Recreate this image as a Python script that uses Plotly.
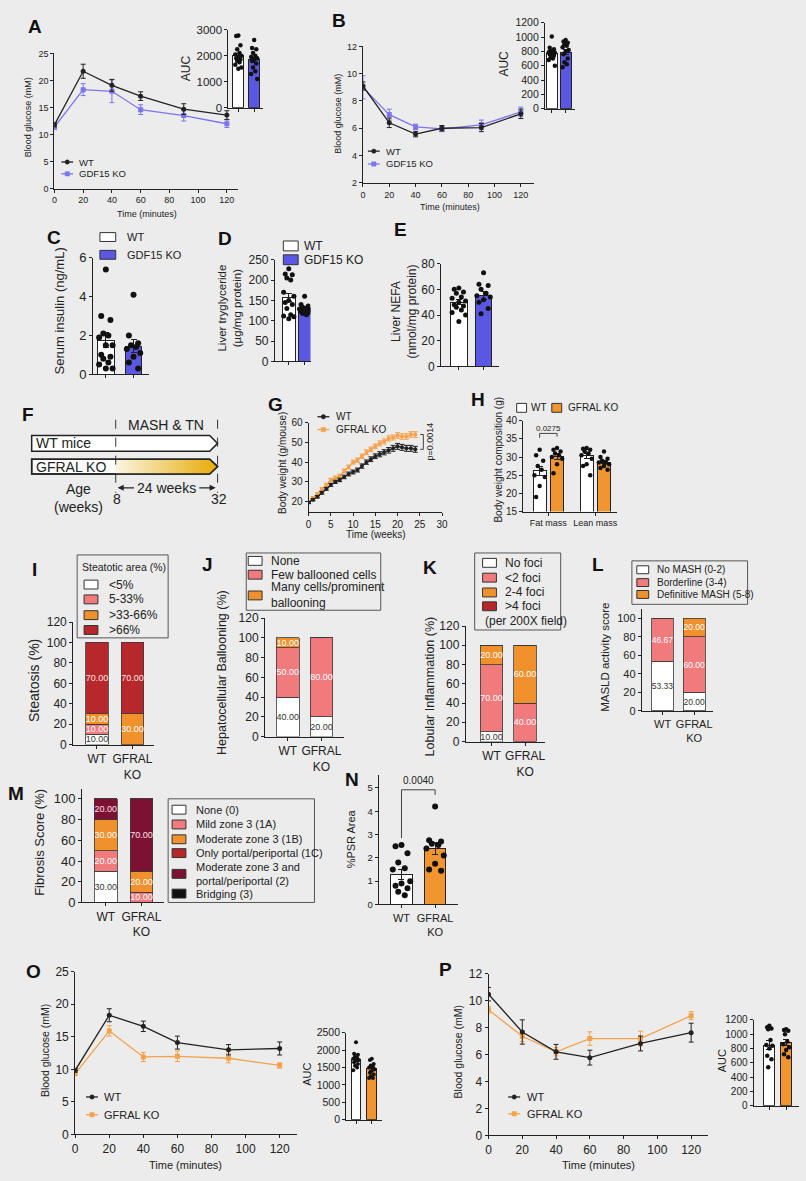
import plotly.graph_objects as go

# ---------------- values ----------------
TIME_MIN = [0, 20, 40, 60, 90, 120]
TIME_TICKS = [0, 20, 40, 60, 80, 100, 120]

# A: GTT, GDF15
GTT_GDF15_WT = [11.8, 21.7, 19.1, 17.1, 14.7, 13.6]
GTT_GDF15_WT_SEM = [0.4, 1.3, 1.1, 0.8, 1.0, 0.8]
GTT_GDF15_KO = [11.4, 18.3, 18.0, 14.6, 13.5, 12.0]
GTT_GDF15_KO_SEM = [0.5, 1.1, 2.1, 0.9, 1.0, 0.7]
GTT_GDF15_AUC_WT = [2780, 2760, 2400, 2250, 2100, 2050, 2000, 1950, 1900, 1850, 1800, 1750, 1650, 1550, 1500]
GTT_GDF15_AUC_KO = [2600, 2300, 2250, 2100, 2000, 1950, 1900, 1850, 1800, 1700, 1550, 1400, 1300, 1100]
GTT_GDF15_AUC_MEAN = [1990, 1835]
GTT_GDF15_AUC_SEM = [95, 110]

# B: ITT, GDF15
ITT_GDF15_WT = [9.1, 6.4, 5.57, 6.0, 6.05, 7.06]
ITT_GDF15_WT_SEM = [0.3, 0.35, 0.2, 0.2, 0.3, 0.35]
ITT_GDF15_KO = [9.0, 7.0, 6.1, 5.95, 6.25, 7.2]
ITT_GDF15_KO_SEM = [0.85, 0.4, 0.2, 0.2, 0.35, 0.35]
ITT_GDF15_AUC_WT = [1010, 850, 830, 810, 800, 790, 780, 770, 760, 740, 720, 700, 680, 600]
ITT_GDF15_AUC_KO = [960, 940, 920, 900, 880, 860, 820, 800, 760, 700, 650, 620, 580]
ITT_GDF15_AUC_MEAN = [770, 790]
ITT_GDF15_AUC_SEM = [25, 35]

# C-E
INSULIN_WT = [5.4, 3.0, 2.8, 2.1, 2.0, 1.9, 1.5, 1.5, 1.0, 0.9, 0.8, 0.6, 0.5, 0.3, 0.3]
INSULIN_KO = [4.1, 2.0, 1.6, 1.5, 1.4, 1.3, 1.1, 0.9, 0.6, 0.3]
INSULIN_MEAN = [1.75, 1.45]
INSULIN_SEM = [0.38, 0.35]

LIVER_TG_WT = [228, 215, 213, 205, 200, 170, 160, 150, 145, 140, 130, 115, 112, 110, 105]
LIVER_TG_KO = [160, 140, 136, 133, 131, 129, 127, 125, 123, 120, 118, 115]
LIVER_TG_MEAN = [158, 130]
LIVER_TG_SEM = [10, 4]

LIVER_NEFA_WT = [61, 60, 58, 57, 54, 53, 51, 50, 48, 47, 46, 44, 42, 40, 35]
LIVER_NEFA_KO = [73, 64, 63, 60, 57, 55, 54, 52, 50, 45, 41]
LIVER_NEFA_MEAN = [50, 55]
LIVER_NEFA_SEM = [2, 3]

# G: body weight
WEEKS = [0, 1, 2, 3, 4, 5, 6, 7, 8, 9, 10, 11, 12, 13, 14, 15, 16, 17, 18, 19, 20, 21, 22, 23, 24]
BW_WT = [19.5, 21.0, 22.5, 24.5, 26.5, 28.5, 30.0, 31.0, 32.5, 34.0, 35.0, 36.0, 38.0,
         40.0, 41.5, 43.0, 44.0, 45.0, 46.0, 47.0, 48.0, 47.5, 47.0, 47.0, 46.5]
BW_WT_SEM = [0.5, 0.6, 0.6, 0.7, 0.7, 0.8, 0.8, 0.9, 0.9, 1.0, 1.0, 1.0, 1.1,
             1.1, 1.2, 1.2, 1.3, 1.3, 1.4, 1.5, 1.5, 1.5, 1.5, 1.5, 1.5]
BW_KO = [20.0, 22.0, 24.0, 26.5, 28.5, 31.0, 32.0, 33.0, 35.5, 37.5, 40.0, 41.0, 43.0,
         45.0, 46.5, 48.0, 49.5, 50.5, 52.0, 52.5, 53.5, 53.0, 53.0, 54.0, 54.0]
BW_KO_SEM = [0.5, 0.6, 0.6, 0.7, 0.8, 0.8, 0.9, 0.9, 1.0, 1.0, 1.0, 1.1, 1.1,
             1.2, 1.2, 1.2, 1.3, 1.3, 1.3, 1.3, 1.4, 1.4, 1.4, 1.4, 1.4]

# H: body composition
BODY_COMP_GROUPS = ["Fat mass", "Lean mass"]
FAT_WT = [32.0, 30.5, 29.0, 27.5, 26.5, 25.0, 24.5, 22.0, 19.0]
FAT_KO = [32.5, 32.0, 31.5, 31.0, 30.5, 30.0, 29.5, 28.0, 25.5]
LEAN_WT = [32.5, 32.3, 32.0, 31.5, 31.0, 30.5, 29.5, 28.0, 27.5, 25.0]
LEAN_KO = [31.5, 30.0, 29.5, 29.0, 28.5, 28.5, 28.0, 27.5, 27.0, 26.5]
FAT_MEAN = [26.2, 30.2]
FAT_SEM = [1.3, 0.75]
LEAN_MEAN = [30.3, 28.6]
LEAN_SEM = [0.8, 0.5]

# I-M: histology scores (% of mice)
GROUPS = ["WT", "GFRAL<br>KO"]
STEATOSIS_CATS = ["<5%", "5-33%", ">33-66%", ">66%"]
STEATOSIS_WT = [10, 10, 10, 70]
STEATOSIS_KO = [0, 0, 30, 70]
BALLOON_CATS = ["None", "Few ballooned cells", "Many cells/prominent<br>ballooning"]
BALLOON_WT = [40, 50, 10]
BALLOON_KO = [20, 80, 0]
INFLAM_CATS = ["No foci", "<2 foci", "2-4 foci", ">4 foci"]
INFLAM_WT = [10, 70, 20, 0]
INFLAM_KO = [0, 40, 60, 0]
NAS_CATS = ["No MASH (0-2)", "Borderline (3-4)", "Definitive MASH (5-8)"]
NAS_WT = [53.33, 46.67, 0]
NAS_KO = [20, 60, 20]
FIB_CATS = ["None (0)", "Mild zone 3 (1A)", "Moderate zone 3 (1B)", "Only portal/periportal (1C)",
            "Moderate zone 3 and<br>portal/periportal (2)", "Bridging (3)"]
FIB_WT = [30, 20, 30, 0, 20, 0]
FIB_KO = [0, 10, 20, 0, 70, 0]

# N: PSR area
PSR_WT = [2.55, 2.5, 2.2, 1.8, 1.55, 1.5, 1.0, 0.9, 0.8, 0.7, 0.55, 0.4]
PSR_KO = [4.2, 2.75, 2.7, 2.6, 2.55, 2.4, 2.1, 1.75, 1.5, 1.45]
PSR_MEAN = [1.3, 2.4]
PSR_SEM = [0.22, 0.25]

# O: GTT, GFRAL
GTT_GFRAL_WT = [9.85, 18.3, 16.6, 14.1, 13.0, 13.2]
GTT_GFRAL_WT_SEM = [0.3, 1.0, 0.8, 1.0, 0.8, 1.0]
GTT_GFRAL_KO = [9.35, 15.9, 11.9, 12.0, 11.7, 10.6]
GTT_GFRAL_KO_SEM = [0.3, 0.8, 0.7, 0.8, 0.7, 0.4]
GTT_GFRAL_AUC_WT = [2230, 1900, 1870, 1820, 1780, 1750, 1720, 1700, 1650, 1600, 1550, 1500, 1420]
GTT_GFRAL_AUC_KO = [1750, 1720, 1600, 1560, 1520, 1500, 1450, 1400, 1350, 1300, 1250, 1200, 1200]
GTT_GFRAL_AUC_MEAN = [1720, 1460]
GTT_GFRAL_AUC_SEM = [55, 50]

# P: ITT, GFRAL
ITT_GFRAL_WT = [10.47, 7.67, 6.2, 5.77, 6.82, 7.62]
ITT_GFRAL_WT_SEM = [0.5, 0.9, 0.55, 0.55, 0.55, 0.7]
ITT_GFRAL_KO = [9.32, 7.35, 6.2, 7.18, 7.18, 8.88]
ITT_GFRAL_KO_SEM = [0.25, 0.4, 0.3, 0.5, 0.55, 0.3]
ITT_GFRAL_AUC_WT = [1120, 1100, 1080, 1070, 920, 850, 840, 800, 700, 650, 540]
ITT_GFRAL_AUC_KO = [1070, 1060, 1050, 1000, 900, 860, 820, 780, 720, 680]
ITT_GFRAL_AUC_MEAN = [850, 885]
ITT_GFRAL_AUC_SEM = [60, 45]

# ---------------- styling ----------------
W, H = 806, 1181
FONT = "Liberation Sans, Arial, Helvetica, sans-serif"
INK = "#222222"
BG = "#ececec"
PURPLE_LINE = "#7d74ee"
PURPLE_BAR = "#5a58e2"
ORANGE_LINE = "#f4a24c"
ORANGE_BAR = "#f0952f"
WHITE = "#ffffff"
PINK = "#f07a7c"
ORANGE = "#f0912d"
RED = "#b7282c"
MAROON = "#7c1133"
BLACK = "#111111"

fig = go.Figure()
axes_layout = {}
shapes = []
notes = []
n_axes = 0


def fx(px):
    return px / W


def fy(py):
    return 1 - py / H


def add_axes(left, right, top, bottom, xrange, yrange, xticks, yticks, size,
             xlabels=None, xsize=None, visible=True):
    global n_axes
    n_axes += 1
    s = "" if n_axes == 1 else str(n_axes)
    base = dict(showline=True, linecolor=INK, linewidth=1, ticks="outside", ticklen=3,
                tickwidth=1, tickcolor=INK, showgrid=False, zeroline=False,
                fixedrange=True, tickmode="array", visible=visible)
    xa = dict(base, domain=[fx(left), fx(right)], range=xrange, tickvals=xticks,
              anchor="y" + s, tickfont=dict(family=FONT, size=xsize or size, color=INK))
    if xlabels is not None:
        xa["ticktext"] = xlabels
    ya = dict(base, domain=[fy(bottom), fy(top)], range=yrange, tickvals=yticks,
              anchor="x" + s, tickfont=dict(family=FONT, size=size, color=INK))
    axes_layout["xaxis" + s] = xa
    axes_layout["yaxis" + s] = ya
    return "x" + s, "y" + s


def bar_axes(left, right, top, bottom, c0, c1, bar_px, yrange, yticks, size,
             labels=None, xsize=None):
    # bars sit at x = 0 and x = 1; the pixel centres fix the range
    s = c1 - c0
    ax = add_axes(left, right, top, bottom, [(left - c0) / s, (right - c0) / s],
                  yrange, [0, 1], yticks, size, labels or ["", ""], xsize)
    return ax, bar_px / s


SPREAD = [0.0, -0.55, 0.55, -0.3, 0.3, -0.8, 0.8]


def spread_x(values, centre, half):
    order = sorted(range(len(values)), key=lambda k: -values[k])
    xs = [centre] * len(values)
    for rank, k in enumerate(order):
        xs[k] = centre + SPREAD[rank % len(SPREAD)] * half
    return xs


def dot_bars(ax, xs, width, means, sems, dots, fills, dot_size=5, spread=1.0):
    for x, m, e, d, c in zip(xs, means, sems, dots, fills):
        fig.add_trace(go.Bar(x=[x], y=[m], width=width,
                             marker=dict(color=c, line=dict(color=INK, width=1)),
                             error_y=dict(type="data", array=[e], color=INK, thickness=1, width=3),
                             xaxis=ax[0], yaxis=ax[1], showlegend=False, hoverinfo="skip"))
        fig.add_trace(go.Scatter(x=spread_x(d, x, spread * width / 2), y=d, mode="markers",
                                 marker=dict(color=BLACK, size=dot_size),
                                 xaxis=ax[0], yaxis=ax[1], showlegend=False, hoverinfo="skip"))


def lines(ax, t, y, sem, color, symbol, size=5, lw=1.3):
    fig.add_trace(go.Scatter(x=t, y=y, mode="lines+markers",
                             line=dict(color=color, width=lw),
                             marker=dict(symbol=symbol, size=size, color=color),
                             error_y=dict(type="data", array=sem, color=color, thickness=1, width=2.5),
                             xaxis=ax[0], yaxis=ax[1], showlegend=False, hoverinfo="skip"))


def stack(ax, width, wt, ko, colors, text_colors, size=9):
    for a, b, col, tc in zip(wt, ko, colors, text_colors):
        fig.add_trace(go.Bar(x=[0, 1], y=[a, b], width=width,
                             marker=dict(color=col, line=dict(color="#3a3a3a", width=0.8)),
                             text=[f"{v:.2f}" if v else "" for v in (a, b)],
                             textposition="inside", insidetextanchor="middle", textangle=0,
                             constraintext="none",
                             textfont=dict(family=FONT, size=size, color=tc),
                             xaxis=ax[0], yaxis=ax[1], showlegend=False, hoverinfo="skip"))


def text(x, y, s, size, anchor="center", angle=0, color=INK, align="left"):
    notes.append(dict(x=fx(x), y=fy(y), xref="paper", yref="paper", text=s, showarrow=False,
                      xanchor=anchor, yanchor="middle", textangle=angle, align=align,
                      font=dict(family=FONT, size=size, color=color)))


def letter(x, y, s):
    text(x, y, f"<b>{s}</b>", 19, color="#111111")


def swatch(xc, yc, color, w=14, h=9):
    shapes.append(dict(type="rect", xref="paper", yref="paper",
                       x0=fx(xc - w / 2), x1=fx(xc + w / 2), y0=fy(yc + h / 2), y1=fy(yc - h / 2),
                       fillcolor=color, line=dict(color="#333333", width=1)))


def frame(l, t, r, b):
    shapes.append(dict(type="rect", xref="paper", yref="paper", x0=fx(l), x1=fx(r),
                       y0=fy(b), y1=fy(t), fillcolor="rgba(0,0,0,0)",
                       line=dict(color="#555555", width=1)))


def box_legend(labels, colors, ys, x_sw, x_txt, size, sw=(14, 9)):
    for lab, col, y in zip(labels, colors, ys):
        swatch(x_sw, y, col, *sw)
        text(x_txt, y, lab, size, anchor="left")


def line_key(labels, colors, symbols, ys, x_mk, x_txt, size):
    for lab, col, sym, y in zip(labels, colors, symbols, ys):
        shapes.append(dict(type="line", xref="paper", yref="paper", x0=fx(x_mk - 6), x1=fx(x_mk + 6),
                           y0=fy(y), y1=fy(y), line=dict(color=col, width=1.3)))
        shapes.append(dict(type="circle" if sym == "circle" else "rect", xref="paper", yref="paper",
                           x0=fx(x_mk - 2.2), x1=fx(x_mk + 2.2), y0=fy(y + 2.2), y1=fy(y - 2.2),
                           fillcolor=col, line=dict(color=col, width=0.5)))
        text(x_txt, y, lab, size, anchor="left")


# ---------------- A ----------------
axA = add_axes(52, 238, 47, 184, [0, 128], [0, 25], TIME_TICKS, [0, 5, 10, 15, 20, 25], 9)
lines(axA, TIME_MIN, GTT_GDF15_KO, GTT_GDF15_KO_SEM, PURPLE_LINE, "square")
lines(axA, TIME_MIN, GTT_GDF15_WT, GTT_GDF15_WT_SEM, INK, "circle")
axA2, wA = bar_axes(228, 263, 23, 102, 238, 254, 11, [0, 3000], [0, 1000, 2000, 3000], 11.5)
dot_bars(axA2, [0, 1], wA, GTT_GDF15_AUC_MEAN, GTT_GDF15_AUC_SEM,
         [GTT_GDF15_AUC_WT, GTT_GDF15_AUC_KO], [WHITE, PURPLE_BAR], 4.5, 0.7)
letter(32, 20, "A")
text(25, 112, "Blood glucose (mM)", 9, angle=-90)
text(146, 210, "Time (minutes)", 9)
text(185, 62, "AUC", 12, angle=-90)
line_key(["WT", "GDF15 KO"], [INK, PURPLE_LINE], ["circle", "square"], [157, 169], 65, 75, 9.5)

# ---------------- B ----------------
axB = add_axes(364, 537, 40, 178, [0, 130], [2, 12], TIME_TICKS, [2, 4, 6, 8, 10, 12], 9)
lines(axB, TIME_MIN, ITT_GDF15_KO, ITT_GDF15_KO_SEM, PURPLE_LINE, "square")
lines(axB, TIME_MIN, ITT_GDF15_WT, ITT_GDF15_WT_SEM, INK, "circle")
axB2, wB = bar_axes(548, 578, 16, 103, 555, 569, 11, [0, 1200],
                    [0, 200, 400, 600, 800, 1000, 1200], 10.5)
dot_bars(axB2, [0, 1], wB, ITT_GDF15_AUC_MEAN, ITT_GDF15_AUC_SEM,
         [ITT_GDF15_AUC_WT, ITT_GDF15_AUC_KO], [WHITE, PURPLE_BAR], 4.5, 0.7)
letter(340, 14, "B")
text(338, 108, "Blood glucose (mM)", 9, angle=-90)
text(452, 203, "Time (minutes)", 9)
text(507, 57, "AUC", 12, angle=-90)
line_key(["WT", "GDF15 KO"], [INK, PURPLE_LINE], ["circle", "square"], [146, 159], 375, 385, 9.5)

# ---------------- C, D, E ----------------
axC, wC = bar_axes(91, 148, 254, 372, 104, 132, 17, [0, 6], [0, 2, 4, 6], 13)
dot_bars(axC, [0, 1], wC, INSULIN_MEAN, INSULIN_SEM, [INSULIN_WT, INSULIN_KO], [WHITE, PURPLE_BAR], 6)
letter(52, 233, "C")
text(57, 308, "Serum insulin (ng/mL)", 13, angle=-90)
box_legend(["WT", "GDF15 KO"], [WHITE, PURPLE_BAR], [233, 251], 106, 123, 11, sw=(16, 9))

axD, wD = bar_axes(275, 311, 256, 359, 289, 305, 13, [0, 250], [0, 50, 100, 150, 200, 250], 12)
dot_bars(axD, [0, 1], wD, LIVER_TG_MEAN, LIVER_TG_SEM, [LIVER_TG_WT, LIVER_TG_KO], [WHITE, PURPLE_BAR], 5)
letter(225, 234, "D")
text(229, 305, "Liver tryglyceride<br>(µg/mg protein)", 11.5, angle=-90, align="center")
box_legend(["WT", "GDF15 KO"], [WHITE, PURPLE_BAR], [242, 256], 291, 302, 12, sw=(15, 10))

axE, wE = bar_axes(443, 502, 260, 364, 461, 486, 17, [0, 80], [0, 20, 40, 60, 80], 12)
dot_bars(axE, [0, 1], wE, LIVER_NEFA_MEAN, LIVER_NEFA_SEM, [LIVER_NEFA_WT, LIVER_NEFA_KO],
         [WHITE, PURPLE_BAR], 5)
letter(402, 225, "E")
text(406, 308, "Liver NEFA<br>(nmol/mg protein)", 12, angle=-90, align="center")

# ---------------- F (timeline diagram, pixel axes) ----------------
axF = add_axes(0, 230, 395, 520, [0, 230], [520, 395], [], [], 10, visible=False)
fref = dict(xref=axF[0], yref=axF[1])
shapes.append(dict(type="path", path="M29,434 L209,434 L217,442 L209,450 L29,450 Z",
                   fillcolor=WHITE, line=dict(color=INK, width=1.5), **fref))
shapes.append(dict(type="path", path="M29,458 L209,458 L217,465.5 L209,473 L29,473 Z",
                   fillcolor=WHITE, line=dict(color=INK, width=1.5), layer="below", **fref))
fig.add_trace(go.Scatter(x=[114, 209, 217, 209, 114, 114], y=[458, 458, 465.5, 473, 473, 458],
                         mode="lines", line=dict(width=0), fill="toself",
                         fillgradient=dict(type="horizontal",
                                           colorscale=[[0, "#fbf5e0"], [1, "#e8ab06"]]),
                         xaxis=axF[0], yaxis=axF[1], showlegend=False, hoverinfo="skip"))
shapes.append(dict(type="path", path="M29,458 L209,458 L217,465.5 L209,473 L29,473 Z",
                   fillcolor="rgba(0,0,0,0)", line=dict(color=INK, width=1.5), **fref))
for xd in (114, 217):
    shapes.append(dict(type="line", x0=xd, x1=xd, y0=418, y1=492,
                       line=dict(color="#333333", width=1, dash="dash"), **fref))
for x_tip, x_tail in ((116, 134), (215, 197)):
    notes.append(dict(x=x_tip, y=487, ax=x_tail, ay=487, axref=axF[0], ayref=axF[1],
                      text="", showarrow=True, arrowhead=2, arrowsize=1, arrowwidth=1.2,
                      arrowcolor=INK, **fref))
letter(25, 413, "F")
text(165, 423, "MASH &amp; TN", 14)
text(31, 442, "WT mice", 14, anchor="left")
text(31, 466, "GFRAL KO", 14, anchor="left")
text(165, 487, "24 weeks", 14)
text(76, 488, "Age", 14)
text(76, 506, "(weeks)", 14)
text(115, 498, "8", 14)
text(218, 498, "32", 14)

# ---------------- G ----------------
axG = add_axes(309, 444, 421, 511, [0, 30], [15, 60], [0, 5, 10, 15, 20, 25, 30],
               [20, 30, 40, 50, 60], 10)
lines(axG, WEEKS, BW_KO, BW_KO_SEM, ORANGE_LINE, "square", size=3.5, lw=1.2)
lines(axG, WEEKS, BW_WT, BW_WT_SEM, INK, "circle", size=4, lw=1.2)
shapes.append(dict(type="path", path="M25.1,54 L25.8,54 L25.8,46.5 L25.1,46.5",
                   xref=axG[0], yref=axG[1], line=dict(color="#444444", width=1)))
notes.append(dict(x=27.2, y=50.2, xref=axG[0], yref=axG[1], text="p=0.0014", showarrow=False,
                  textangle=-90, font=dict(family=FONT, size=9, color=INK)))
letter(276, 403, "G")
text(282, 462, "Body weight (g/mouse)", 10, angle=-90)
text(377, 534, "Time (weeks)", 10)
line_key(["WT", "GFRAL KO"], [INK, ORANGE_LINE], ["circle", "square"], [415, 428], 324, 335, 10)

# ---------------- H ----------------
axH, wH = bar_axes(526, 621, 419, 511, 551.5, 599, 13, [15, 40], [15, 20, 25, 30, 35, 40], 10,
                   labels=BODY_COMP_GROUPS, xsize=9)
dot_bars(axH, [-0.185, 0.185], wH, FAT_MEAN, FAT_SEM, [FAT_WT, FAT_KO], [WHITE, ORANGE_BAR], 4.5)
dot_bars(axH, [0.815, 1.185], wH, LEAN_MEAN, LEAN_SEM, [LEAN_WT, LEAN_KO], [WHITE, ORANGE_BAR], 4.5)
shapes.append(dict(type="path", path="M-0.185,35.3 L-0.185,36.5 L0.185,36.5 L0.185,35.6",
                   xref=axH[0], yref=axH[1], line=dict(color="#444444", width=1)))
notes.append(dict(x=0, y=37.9, xref=axH[0], yref=axH[1], text="0.0275", showarrow=False,
                  font=dict(family=FONT, size=8, color=INK)))
letter(480, 398, "H")
text(501, 458, "Body weight composition (g)", 10, angle=-90)
swatch(524.5, 406, WHITE, 10, 9)
text(532, 406, "WT", 10, anchor="left")
swatch(560, 406, ORANGE_BAR, 10, 9)
text(569, 406, "GFRAL KO", 10, anchor="left")

# ---------------- I ----------------
axI, wI = bar_axes(71, 153, 623, 747, 95, 131, 23, [0, 120], [0, 20, 40, 60, 80, 100, 120], 12,
                   labels=GROUPS, xsize=12)
stack(axI, wI, STEATOSIS_WT, STEATOSIS_KO, [WHITE, PINK, ORANGE, RED],
      ["#333333", WHITE, WHITE, "#ffe0e0"])
letter(32, 570, "I")
text(32, 682, "Steatosis (%)", 14, angle=-90)
frame(75, 555, 167, 639)
text(122, 567, "Steatotic area (%)", 10.5)
box_legend(STEATOSIS_CATS, [WHITE, PINK, ORANGE, RED], [585, 600, 616, 631], 89, 105, 12)

# ---------------- J ----------------
axJ, wJ = bar_axes(265, 345, 619, 739, 288, 322, 23, [0, 120], [0, 20, 40, 60, 80, 100, 120], 12,
                   labels=GROUPS, xsize=12)
stack(axJ, wJ, BALLOON_WT, BALLOON_KO, [WHITE, PINK, ORANGE], ["#333333", WHITE, WHITE])
letter(207, 565, "J")
text(222, 674, "Hepatocellular Ballooning (%)", 12.5, angle=-90)
frame(246, 553, 382, 611)
box_legend(BALLOON_CATS, [WHITE, PINK, ORANGE], [561, 575, 596], 255, 269, 12)

# ---------------- K ----------------
axK, wK = bar_axes(468, 548, 627, 744, 494, 528, 23, [0, 120], [0, 20, 40, 60, 80, 100, 120], 12,
                   labels=GROUPS, xsize=12)
stack(axK, wK, INFLAM_WT, INFLAM_KO, [WHITE, PINK, ORANGE, RED],
      ["#333333", WHITE, WHITE, WHITE])
letter(432, 568, "K")
text(432, 688, "Lobular Inflammation (%)", 12.5, angle=-90)
frame(477, 553, 564, 631)
box_legend(INFLAM_CATS, [WHITE, PINK, ORANGE, RED], [563, 578, 593, 607], 492, 506, 12)
text(485, 622, "(per 200X field)", 12, anchor="left")

# ---------------- L ----------------
axL, wL = bar_axes(646, 718, 610, 713, 667, 699, 22, [0, 109.6], [0, 20, 40, 60, 80, 100], 11,
                   labels=GROUPS, xsize=11)
stack(axL, wL, NAS_WT, NAS_KO, [WHITE, PINK, ORANGE], ["#333333", WHITE, WHITE], size=8.5)
letter(602, 565, "L")
text(608, 659, "MASLD activity score", 11.5, angle=-90)
frame(636, 561, 753, 605)
box_legend(NAS_CATS, [WHITE, PINK, ORANGE], [570, 583, 595], 647, 659, 10, sw=(12, 8))

# ---------------- M ----------------
axM, wM = bar_axes(80, 163, 792, 907, 104, 140, 23, [0, 109.5], [0, 20, 40, 60, 80, 100], 13,
                   labels=GROUPS, xsize=12)
stack(axM, wM, FIB_WT, FIB_KO, [WHITE, PINK, ORANGE, RED, MAROON, BLACK],
      ["#333333", WHITE, WHITE, WHITE, "#ffe0e8", WHITE])
letter(13, 797, "M")
text(37, 846, "Fibrosis Score (%)", 13, angle=-90)
frame(167, 802, 315, 907)
box_legend(FIB_CATS, [WHITE, PINK, ORANGE, RED, MAROON, BLACK],
           [813, 828, 843, 857, 878, 898], 178, 193, 11)

# ---------------- N ----------------
axN, wN = bar_axes(380, 460, 778, 909, 403, 437, 22, [0, 5.55], [0, 1, 2, 3, 4, 5], 9.5,
                   labels=GROUPS, xsize=11)
dot_bars(axN, [0, 1], wN, PSR_MEAN, PSR_SEM, [PSR_WT, PSR_KO], [WHITE, ORANGE_BAR], 6)
shapes.append(dict(type="path", path="M0,2.85 L0,4.92 L1,4.92 L1,4.7",
                   xref=axN[0], yref=axN[1], line=dict(color="#444444", width=1)))
notes.append(dict(x=0.5, y=5.3, xref=axN[0], yref=axN[1], text="0.0040", showarrow=False,
                  font=dict(family=FONT, size=10, color=INK)))
letter(353, 782, "N")
text(352, 843, "%PSR Area", 11, angle=-90)

# ---------------- O ----------------
axO = add_axes(73, 297, 977, 1142, [0, 130], [0, 25], TIME_TICKS, [0, 5, 10, 15, 20, 25], 12)
lines(axO, TIME_MIN, GTT_GFRAL_KO, GTT_GFRAL_KO_SEM, ORANGE_LINE, "square")
lines(axO, TIME_MIN, GTT_GFRAL_WT, GTT_GFRAL_WT_SEM, INK, "circle")
axO2, wO = bar_axes(347, 383, 1039, 1127, 357, 373, 10, [0, 2500],
                    [0, 500, 1000, 1500, 2000, 2500], 10.5)
dot_bars(axO2, [0, 1], wO, GTT_GFRAL_AUC_MEAN, GTT_GFRAL_AUC_SEM,
         [GTT_GFRAL_AUC_WT, GTT_GFRAL_AUC_KO], [WHITE, ORANGE_BAR], 4, 0.7)
letter(31, 977, "O")
text(42, 1057, "Blood glucose (mM)", 10.5, angle=-90)
text(185, 1173, "Time (minutes)", 11)
text(308, 1081, "AUC", 11, angle=-90)
line_key(["WT", "GFRAL KO"], [INK, ORANGE_LINE], ["circle", "square"], [1104, 1122], 90, 100, 11)

# ---------------- P ----------------
axP = add_axes(491, 713, 979, 1143, [0, 130], [0, 12], TIME_TICKS, [0, 2, 4, 6, 8, 10, 12], 12)
lines(axP, TIME_MIN, ITT_GFRAL_KO, ITT_GFRAL_KO_SEM, ORANGE_LINE, "square")
lines(axP, TIME_MIN, ITT_GFRAL_WT, ITT_GFRAL_WT_SEM, INK, "circle")
axP2, wP = bar_axes(759, 805, 1026, 1113, 775, 792, 11, [0, 1200],
                    [0, 200, 400, 600, 800, 1000, 1200], 10)
dot_bars(axP2, [0, 1], wP, ITT_GFRAL_AUC_MEAN, ITT_GFRAL_AUC_SEM,
         [ITT_GFRAL_AUC_WT, ITT_GFRAL_AUC_KO], [WHITE, ORANGE_BAR], 4.5, 0.7)
letter(447, 975, "P")
text(460, 1058, "Blood glucose (mM)", 10.5, angle=-90)
text(602, 1173, "Time (minutes)", 11)
text(728, 1067, "AUC", 11, angle=-90)
line_key(["WT", "GFRAL KO"], [INK, ORANGE_LINE], ["circle", "square"], [1104, 1121], 517, 528, 11)

fig.update_layout(
    width=W, height=H, margin=dict(l=0, r=0, t=0, b=0), autosize=False,
    paper_bgcolor=BG, plot_bgcolor="rgba(0,0,0,0)",
    font=dict(family=FONT, color=INK), barmode="stack", showlegend=False,
    shapes=shapes, annotations=notes, **axes_layout,
)
# drop the browser's default body margin so the figure starts at the page corner
fig.write_html("out.html", config={"displayModeBar": False},
               post_script="document.body.style.margin='0px';"
                           "document.body.style.background='#ececec';")
